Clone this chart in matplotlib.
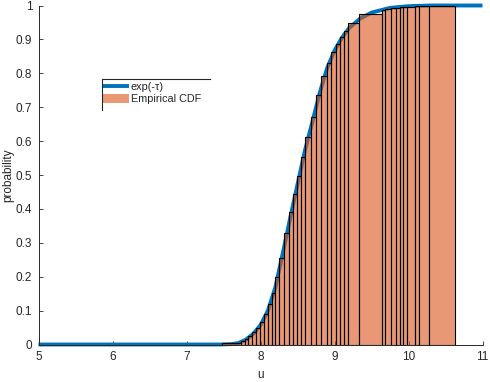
import numpy as np
import matplotlib
matplotlib.use('Agg')
import matplotlib.pyplot as plt
from matplotlib.patches import Patch
from matplotlib.lines import Line2D

# ---- data ----
curve_u = [5.0, 7.45, 7.60, 7.70, 7.80, 7.90, 8.00, 8.10, 8.20, 8.30, 8.40, 8.50,
           8.60, 8.70, 8.80, 8.90, 9.00, 9.10, 9.20, 9.35, 9.50, 9.75, 10.00, 10.30, 11.0]
curve_p = [0.0, 0.0, 0.001, 0.004, 0.014, 0.031, 0.057, 0.100, 0.168, 0.268, 0.372, 0.472,
           0.572, 0.656, 0.742, 0.815, 0.867, 0.905, 0.934, 0.962, 0.979, 0.993, 0.998, 1.0, 1.0]

bin_edges = [7.480, 7.736, 7.791, 7.831, 7.889, 7.943, 7.989, 8.043, 8.097, 8.151,
             8.196, 8.254, 8.311, 8.389, 8.441, 8.493, 8.547, 8.601, 8.678, 8.746,
             8.824, 8.895, 8.953, 9.020, 9.074, 9.131, 9.186, 9.335, 9.638, 9.685,
             9.770, 9.831, 9.889, 9.930, 9.986, 10.084, 10.139, 10.281, 10.631]
cdf_heights = [0.003, 0.009, 0.016, 0.025, 0.036, 0.049, 0.066, 0.089, 0.120, 0.153,
               0.199, 0.256, 0.328, 0.392, 0.444, 0.497, 0.552, 0.612, 0.672, 0.736,
               0.791, 0.831, 0.863, 0.887, 0.907, 0.924, 0.949, 0.975, 0.988, 0.990,
               0.992, 0.994, 0.995, 0.996, 0.997, 0.998, 0.999, 1.000]

x_ticks = [5, 6, 7, 8, 9, 10, 11]
y_ticks = [0, 0.1, 0.2, 0.3, 0.4, 0.5, 0.6, 0.7, 0.8, 0.9, 1.0]
y_ticklabels = ['0', '0.1', '0.2', '0.3', '0.4', '0.5', '0.6', '0.7', '0.8', '0.9', '1']
legend_labels = ['exp(-τ)', 'Empirical CDF']

# ---- style ----
plt.rcParams['font.family'] = ['Liberation Sans', 'DejaVu Sans']
W, H = 490, 382
blue = '#0072BD'
orange_rgba = (0.851, 0.325, 0.098, 0.6)
axis_col = '#262626'

fig = plt.figure(figsize=(W / 100, H / 100), dpi=100)
ax = fig.add_axes([38.5 / W, 37.5 / H, 444 / W, 339 / H])

ax.plot(curve_u, curve_p, color=blue, lw=2.8, clip_on=False, zorder=2,
        solid_capstyle='butt')
edges = np.array(bin_edges)
ax.bar(edges[:-1], cdf_heights, width=np.diff(edges), align='edge',
       facecolor=orange_rgba, edgecolor='black', linewidth=0.8, zorder=3)

ax.set_xlim(5, 11)
ax.set_ylim(0, 1)
ax.set_xticks(x_ticks)
ax.set_xticklabels([str(t) for t in x_ticks])
ax.set_yticks(y_ticks)
ax.set_yticklabels(y_ticklabels)

for s in ['top', 'right']:
    ax.spines[s].set_visible(False)
for s in ['left', 'bottom']:
    ax.spines[s].set_color(axis_col)
    ax.spines[s].set_linewidth(0.7)

ax.tick_params(direction='in', length=3, width=0.6, colors=axis_col,
               labelsize=8.5, pad=4.5)

ax.set_xlabel('u', fontsize=8.5, color=axis_col)
ax.set_ylabel('probability', fontsize=8.5, color=axis_col)
ax.xaxis.set_label_coords(0.5, -0.071)
ax.yaxis.set_label_coords(-0.054, 0.5)

handles = [Line2D([], [], color=blue, lw=2.8, solid_capstyle='butt'),
           Patch(facecolor=orange_rgba, edgecolor='none')]
leg = ax.legend(handles=handles, labels=legend_labels, loc='upper left',
                bbox_to_anchor=(0.145, 0.775), frameon=False, fontsize=7.8,
                handlelength=2.4, handleheight=0.9, handletextpad=0.15,
                borderpad=0, borderaxespad=0, labelspacing=0.15)
for t in leg.get_texts():
    t.set_color(axis_col)

# partial legend frame (top and left edges only, as in reference)
def fx(px):
    return px / W
def fy(py):
    return 1 - py / H
fig.add_artist(Line2D([fx(102), fx(210)], [fy(79), fy(79)], color=axis_col, lw=0.8))
fig.add_artist(Line2D([fx(102), fx(102)], [fy(79), fy(110)], color=axis_col, lw=0.8))

fig.savefig('out.png', dpi=100)
